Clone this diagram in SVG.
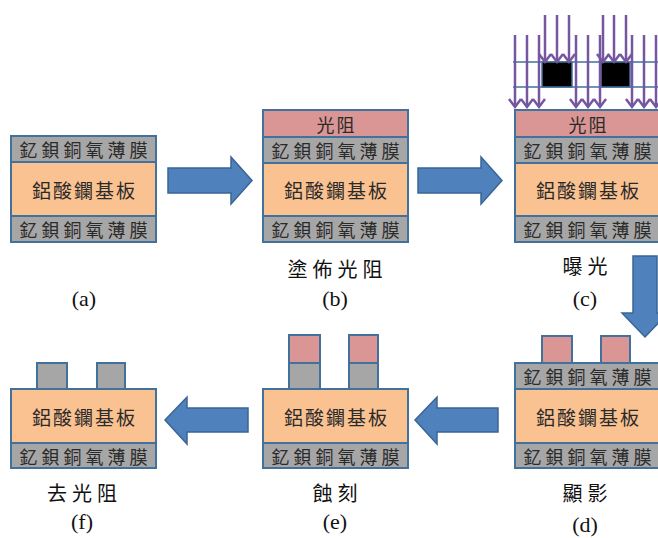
<svg xmlns="http://www.w3.org/2000/svg" width="658" height="538" viewBox="0 0 658 538">
<defs>
<style>
.g{fill:#a6a6a6;stroke:#41719c;stroke-width:2}
.s{fill:#fac191;stroke:#41719c;stroke-width:2}
.r{fill:#d99694;stroke:#41719c;stroke-width:2}
.m{fill:#000;stroke:#41719c;stroke-width:1.5}
.ml{stroke:#41719c;stroke-width:1.5;fill:none}
.ba{fill:#4f81bd;stroke:#3a6594;stroke-width:1.5}
.uv{stroke:#7556a0;stroke-width:2.5;fill:none;marker-end:url(#chev)}
.t1{font-family:"Noto Sans CJK TC","Noto Sans CJK SC",sans-serif;font-size:18px;letter-spacing:4px;fill:#2a2a2a;text-anchor:middle;dominant-baseline:central}
.t2{font-family:"Noto Sans CJK TC","Noto Sans CJK SC",sans-serif;font-size:19px;letter-spacing:2px;fill:#2a2a2a;text-anchor:middle;dominant-baseline:central}
.t3{font-family:"Noto Sans CJK TC","Noto Sans CJK SC",sans-serif;font-size:18px;letter-spacing:2px;fill:#2a2a2a;text-anchor:middle;dominant-baseline:central}
.cap{font-family:"Noto Sans CJK TC","Noto Sans CJK SC",sans-serif;font-size:20px;letter-spacing:5px;fill:#111;text-anchor:middle;dominant-baseline:central}
.lab{font-family:"Liberation Serif",serif;font-size:22px;fill:#111;text-anchor:middle;dominant-baseline:central}
</style>
<marker id="chev" markerUnits="userSpaceOnUse" markerWidth="20" markerHeight="20" refX="0" refY="0" viewBox="-10 -10 20 20" orient="auto" overflow="visible">
<path d="M-8,-6 L0,0 L-8,6" fill="none" stroke="#7556a0" stroke-width="2.5"/>
</marker>
</defs>

<g id="panel-a">
<rect class="g" x="11" y="136" width="145" height="26"/>
<rect class="s" x="11" y="162" width="145" height="54"/>
<rect class="g" x="11" y="216" width="145" height="26"/>
<text class="t1" x="85.5" y="149">釔鋇銅氧薄膜</text>
<text class="t2" x="84.5" y="189">鋁酸鑭基板</text>
<text class="t1" x="85.5" y="229">釔鋇銅氧薄膜</text>
<text class="lab" x="84" y="298">(a)</text>
</g>

<g id="panel-b">
<rect class="r" x="263" y="110" width="145" height="27"/>
<rect class="g" x="263" y="137" width="145" height="26"/>
<rect class="s" x="263" y="163" width="145" height="53"/>
<rect class="g" x="263" y="216" width="145" height="26"/>
<text class="t3" x="336.5" y="123.5">光阻</text>
<text class="t1" x="337.5" y="150">釔鋇銅氧薄膜</text>
<text class="t2" x="336.5" y="189.5">鋁酸鑭基板</text>
<text class="t1" x="337.5" y="229">釔鋇銅氧薄膜</text>
<text class="cap" x="337.5" y="268">塗佈光阻</text>
<text class="lab" x="335" y="298">(b)</text>
</g>

<g id="panel-c">
<line class="ml" x1="513" y1="62" x2="660" y2="62"/>
<line class="ml" x1="513" y1="87" x2="660" y2="87"/>
<rect class="m" x="542" y="62" width="30" height="25"/>
<rect class="m" x="601" y="62" width="29" height="25"/>
<rect class="r" x="515" y="110" width="145" height="27"/>
<rect class="g" x="515" y="137" width="145" height="26"/>
<rect class="s" x="515" y="163" width="145" height="53"/>
<rect class="g" x="515" y="216" width="145" height="26"/>
<text class="t3" x="588.5" y="123.5">光阻</text>
<text class="t1" x="589.5" y="150">釔鋇銅氧薄膜</text>
<text class="t2" x="588.5" y="189.5">鋁酸鑭基板</text>
<text class="t1" x="589.5" y="229">釔鋇銅氧薄膜</text>
<text class="cap" x="587.5" y="265">曝光</text>
<text class="lab" x="585" y="298">(c)</text>
</g>

<g id="light">
<line class="uv" x1="515" y1="35" x2="515" y2="107"/>
<line class="uv" x1="527" y1="35" x2="527" y2="107"/>
<line class="uv" x1="539" y1="35" x2="539" y2="107"/>
<line class="uv" x1="545" y1="15" x2="545" y2="62"/>
<line class="uv" x1="557" y1="15" x2="557" y2="62"/>
<line class="uv" x1="569" y1="15" x2="569" y2="62"/>
<line class="uv" x1="576" y1="35" x2="576" y2="107"/>
<line class="uv" x1="588" y1="35" x2="588" y2="107"/>
<line class="uv" x1="600" y1="35" x2="600" y2="107"/>
<line class="uv" x1="603" y1="15" x2="603" y2="62"/>
<line class="uv" x1="614" y1="15" x2="614" y2="62"/>
<line class="uv" x1="626" y1="15" x2="626" y2="62"/>
<line class="uv" x1="632" y1="35" x2="632" y2="107"/>
<line class="uv" x1="644" y1="35" x2="644" y2="107"/>
<line class="uv" x1="656" y1="35" x2="656" y2="107"/>
</g>

<g id="panel-d">
<rect class="r" x="542" y="336" width="30" height="27"/>
<rect class="r" x="601" y="336" width="29" height="27"/>
<rect class="g" x="515" y="363" width="145" height="26"/>
<rect class="s" x="515" y="389" width="145" height="54"/>
<rect class="g" x="515" y="443" width="145" height="25"/>
<text class="t1" x="589.5" y="376">釔鋇銅氧薄膜</text>
<text class="t2" x="588.5" y="416">鋁酸鑭基板</text>
<text class="t1" x="589.5" y="455.5">釔鋇銅氧薄膜</text>
<text class="cap" x="587.5" y="492">顯影</text>
<text class="lab" x="585" y="524">(d)</text>
</g>

<g id="panel-e">
<rect class="r" x="289" y="335" width="31" height="28"/>
<rect class="g" x="289" y="363" width="31" height="26"/>
<rect class="r" x="349" y="335" width="29" height="28"/>
<rect class="g" x="349" y="363" width="29" height="26"/>
<rect class="s" x="263" y="389" width="145" height="54"/>
<rect class="g" x="263" y="443" width="145" height="25"/>
<text class="t2" x="336.5" y="416">鋁酸鑭基板</text>
<text class="t1" x="337.5" y="455.5">釔鋇銅氧薄膜</text>
<text class="cap" x="337.5" y="492">蝕刻</text>
<text class="lab" x="335" y="521">(e)</text>
</g>

<g id="panel-f">
<rect class="g" x="37" y="363" width="30" height="26"/>
<rect class="g" x="97" y="363" width="28" height="26"/>
<rect class="s" x="11" y="389" width="145" height="54"/>
<rect class="g" x="11" y="443" width="145" height="25"/>
<text class="t2" x="84.5" y="416">鋁酸鑭基板</text>
<text class="t1" x="85.5" y="455.5">釔鋇銅氧薄膜</text>
<text class="cap" x="84.5" y="492">去光阻</text>
<text class="lab" x="82" y="521">(f)</text>
</g>

<g id="connectors">
<polygon class="ba" points="168,168 231,168 231,157 252,180.5 231,204 231,193 168,193"/>
<polygon class="ba" points="418,168 481,168 481,157 502,180.5 481,204 481,193 418,193"/>
<polygon class="ba" points="633,256 657,256 657,313 668,313 645,337 622,313 633,313"/>
<polygon class="ba" points="248,408 187,408 187,397 165,420 187,444 187,432 248,432"/>
<polygon class="ba" points="498,408 437,408 437,397 415,420 437,444 437,432 498,432"/>
</g>
</svg>
